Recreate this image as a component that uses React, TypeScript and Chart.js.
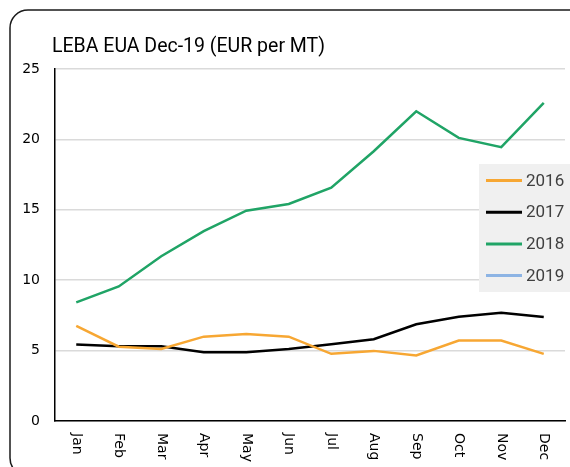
import React, { useEffect, useRef } from "react";
import { Chart, registerables } from "chart.js";

Chart.register(...registerables);

const TITLE = "LEBA EUA Dec-19 (EUR per MT)";
const MONTHS = ["Jan", "Feb", "Mar", "Apr", "May", "Jun", "Jul", "Aug", "Sep", "Oct", "Nov", "Dec"];
const SERIES_LABELS = ["2016", "2017", "2018", "2019"];
const SERIES_COLORS = ["#f7a733", "#000000", "#20a466", "#8db4e4"];
const VALUES_2016 = [6.75, 5.28, 5.12, 5.99, 6.18, 5.99, 4.77, 4.98, 4.65, 5.71, 5.71, 4.77];
const VALUES_2017 = [5.43, 5.31, 5.31, 4.89, 4.89, 5.12, 5.45, 5.81, 6.87, 7.41, 7.69, 7.39];
const VALUES_2018 = [8.43, 9.56, 11.7, 13.48, 14.94, 15.41, 16.57, 19.16, 22.0, 20.11, 19.45, 22.6];
const VALUES_2019: (number | null)[] = [];
const Y_TICKS = { min: 0, max: 25, step: 5 };

const framePlugin = {
  id: "frame",
  beforeDraw(chart: any) {
    const ctx = chart.ctx;
    ctx.save();
    ctx.fillStyle = "#ffffff";
    ctx.fillRect(0, 0, chart.width, chart.height);
    ctx.strokeStyle = "#1a1a1a";
    ctx.lineWidth = 1.5;
    ctx.beginPath();
    if (ctx.roundRect) {
      ctx.roundRect(10, 10, 580, 466, 18);
    } else {
      ctx.rect(10, 10, 580, 466);
    }
    ctx.stroke();
    ctx.restore();
  },
};

const textPlugin = {
  id: "texts",
  afterDraw(chart: any) {
    const ctx = chart.ctx;
    const area = chart.chartArea;
    ctx.save();
    // title
    ctx.fillStyle = "#000000";
    ctx.font = "19.5px Roboto";
    ctx.textAlign = "left";
    ctx.textBaseline = "alphabetic";
    ctx.fillText(TITLE, 52, 52);

    // rotated x labels (reading top to bottom)
    const xs = chart.scales.x;
    ctx.font = "14px 'DejaVu Sans'";
    ctx.fillStyle = "#000000";
    MONTHS.forEach((m, i) => {
      const x = xs.getPixelForTick(i);
      ctx.save();
      ctx.translate(x, area.bottom + 12);
      ctx.rotate(Math.PI / 2);
      ctx.textAlign = "left";
      ctx.textBaseline = "middle";
      ctx.fillText(m, 0, 0);
      ctx.restore();
    });

    // legend box
    const lx = 479;
    const ly = 164;
    ctx.fillStyle = "#f0f0f0";
    ctx.fillRect(lx, ly, chart.width - lx, 128);
    chart.data.datasets.forEach((ds: any, i: number) => {
      const y = 180.5 + i * 31.7;
      ctx.strokeStyle = ds.borderColor;
      ctx.lineWidth = 3;
      ctx.beginPath();
      ctx.moveTo(486, y);
      ctx.lineTo(522, y);
      ctx.stroke();
      ctx.fillStyle = "#404040";
      ctx.font = "17px Roboto";
      ctx.textAlign = "left";
      ctx.textBaseline = "middle";
      ctx.fillText(ds.label, 526, y + 1);
    });
    ctx.restore();
  },
};

export default function App() {
  const ref = useRef<HTMLCanvasElement | null>(null);
  useEffect(() => {
    document.body.style.margin = "0";
    const seriesValues = [VALUES_2016, VALUES_2017, VALUES_2018, VALUES_2019];
    const chart = new Chart(ref.current as HTMLCanvasElement, {
      type: "line",
      data: {
        labels: MONTHS,
        datasets: SERIES_LABELS.map((label, i) => ({
          label,
          data: seriesValues[i],
          borderColor: SERIES_COLORS[i],
          backgroundColor: SERIES_COLORS[i],
          borderWidth: 2.5,
          pointRadius: 0,
          tension: 0,
          fill: false,
        })),
      },
      options: {
        animation: false,
        responsive: false,
        layout: { padding: { left: 10, right: 5, top: 69, bottom: 46 } },
        plugins: {
          legend: { display: false },
          title: { display: false },
          tooltip: { enabled: false },
        },
        scales: {
          x: {
            offset: true,
            grid: { display: false, drawTicks: false },
            border: { display: true, color: "#000000", width: 1.5 },
            ticks: { display: false },
          },
          y: {
            min: Y_TICKS.min,
            max: Y_TICKS.max,
            afterFit: (scale: any) => {
              scale.width = 45;
            },
            grid: { color: "#dadada", lineWidth: 1.5, drawTicks: false },
            border: { display: true, color: "#000000", width: 1.5 },
            ticks: {
              stepSize: Y_TICKS.step,
              padding: 15,
              color: "#000000",
              font: { family: "'DejaVu Sans'", size: 14 },
            },
          },
        },
      },
      plugins: [framePlugin, textPlugin],
    });
    return () => chart.destroy();
  }, []);
  return (
    <div style={{ position: "absolute", left: 0, top: 0, width: 570, height: 467 }}>
      <canvas ref={ref} width={570} height={467} style={{ width: 570, height: 467 }} />
    </div>
  );
}
